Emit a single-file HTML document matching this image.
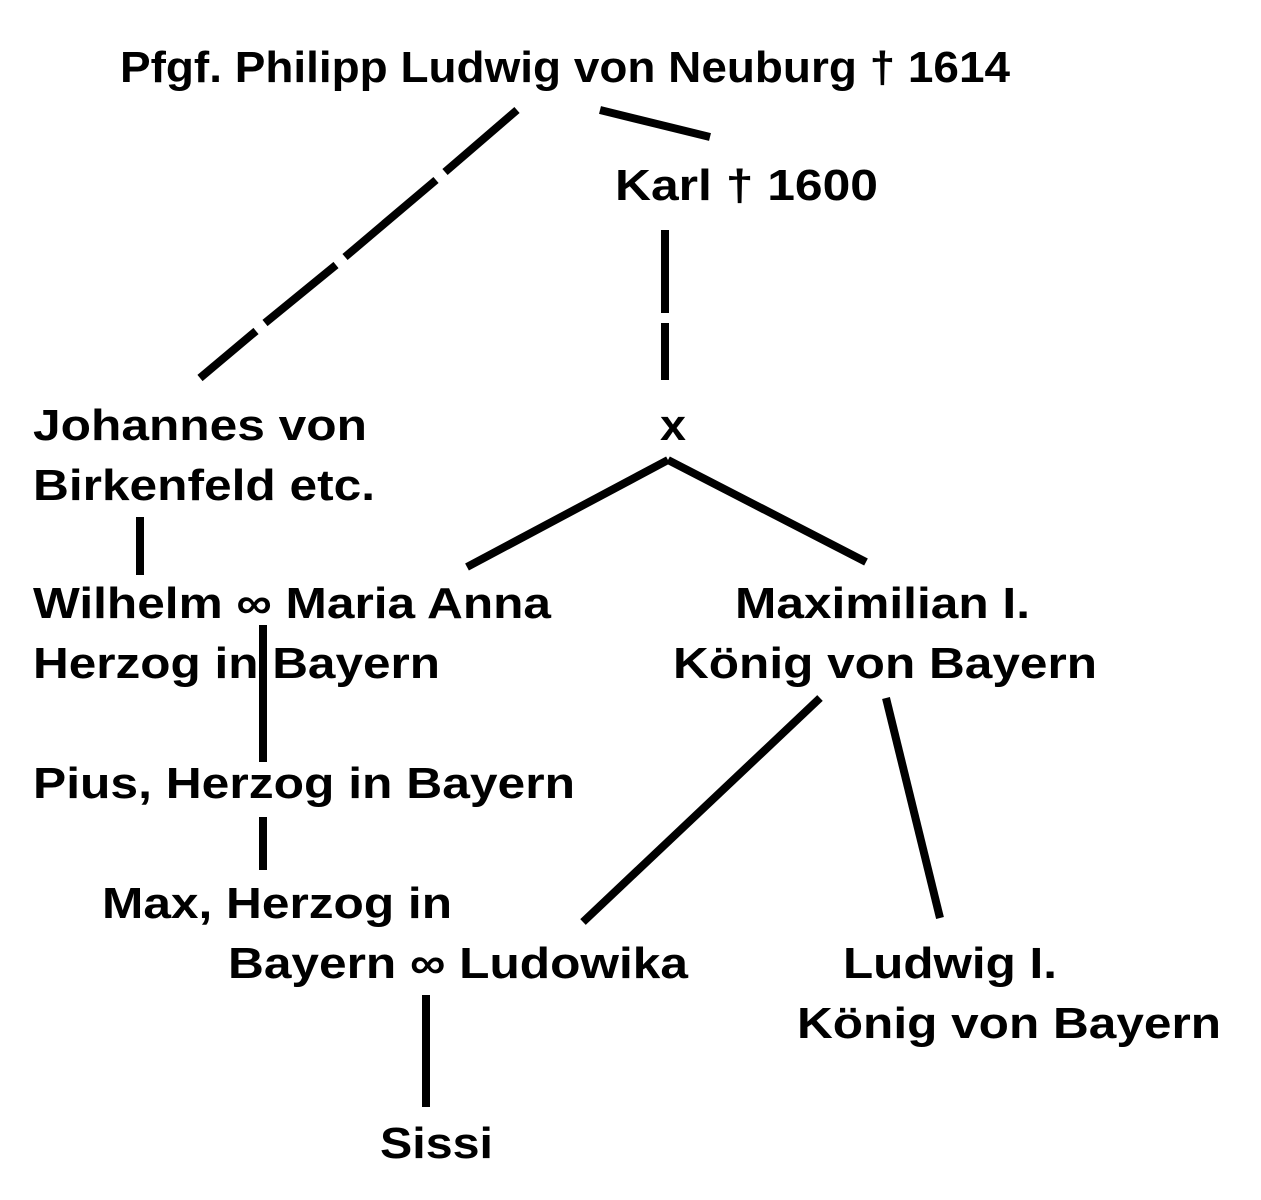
<!DOCTYPE html>
<html><head><meta charset="utf-8"><style>html,body{margin:0;padding:0;background:#fff}svg{display:block}</style></head>
<body>
<svg width="1261" height="1200" viewBox="0 0 1261 1200" xmlns="http://www.w3.org/2000/svg">
<g stroke="#000" stroke-width="8" stroke-linecap="butt" fill="none">
<line x1="517" y1="110" x2="445" y2="172"/>
<line x1="436" y1="180" x2="345" y2="257"/>
<line x1="336" y1="265" x2="265" y2="323"/>
<line x1="256" y1="331" x2="200" y2="378"/>
<line x1="600" y1="110" x2="710" y2="137"/>
<line x1="665" y1="230" x2="665" y2="313"/>
<line x1="665" y1="323" x2="665" y2="380"/>
<line x1="668" y1="460" x2="467" y2="567"/>
<line x1="668" y1="460" x2="866" y2="562"/>
<line x1="140" y1="517" x2="140" y2="575"/>
<line x1="263" y1="625" x2="263" y2="762"/>
<line x1="263" y1="817" x2="263" y2="870"/>
<line x1="820" y1="698" x2="583" y2="922"/>
<line x1="886" y1="698" x2="940" y2="918"/>
<line x1="426" y1="995" x2="426" y2="1107"/>
</g>
<g font-family="Liberation Sans, DejaVu Sans, sans-serif" font-weight="bold" font-size="44" fill="#000" lengthAdjust="spacingAndGlyphs">
<text x="120" y="82" textLength="890" lengthAdjust="spacingAndGlyphs">Pfgf. Philipp Ludwig von Neuburg † 1614</text>
<text x="615" y="200" textLength="263" lengthAdjust="spacingAndGlyphs">Karl † 1600</text>
<text x="33" y="440" textLength="334" lengthAdjust="spacingAndGlyphs">Johannes von</text>
<text x="33" y="500" textLength="342" lengthAdjust="spacingAndGlyphs">Birkenfeld etc.</text>
<text x="660" y="440" textLength="26" lengthAdjust="spacingAndGlyphs">x</text>
<text x="33" y="618" textLength="518" lengthAdjust="spacingAndGlyphs">Wilhelm ∞ Maria Anna</text>
<text x="33" y="678" textLength="407" lengthAdjust="spacingAndGlyphs">Herzog in Bayern</text>
<text x="735" y="618" textLength="295" lengthAdjust="spacingAndGlyphs">Maximilian I.</text>
<text x="673" y="678" textLength="424" lengthAdjust="spacingAndGlyphs">König von Bayern</text>
<text x="33" y="798" textLength="542" lengthAdjust="spacingAndGlyphs">Pius, Herzog in Bayern</text>
<text x="102" y="918" textLength="350" lengthAdjust="spacingAndGlyphs">Max, Herzog in</text>
<text x="228" y="978" textLength="460" lengthAdjust="spacingAndGlyphs">Bayern ∞ Ludowika</text>
<text x="843" y="978" textLength="214" lengthAdjust="spacingAndGlyphs">Ludwig I.</text>
<text x="797" y="1038" textLength="424" lengthAdjust="spacingAndGlyphs">König von Bayern</text>
<text x="380" y="1158" textLength="113" lengthAdjust="spacingAndGlyphs">Sissi</text>
</g>
</svg>
</body></html>
